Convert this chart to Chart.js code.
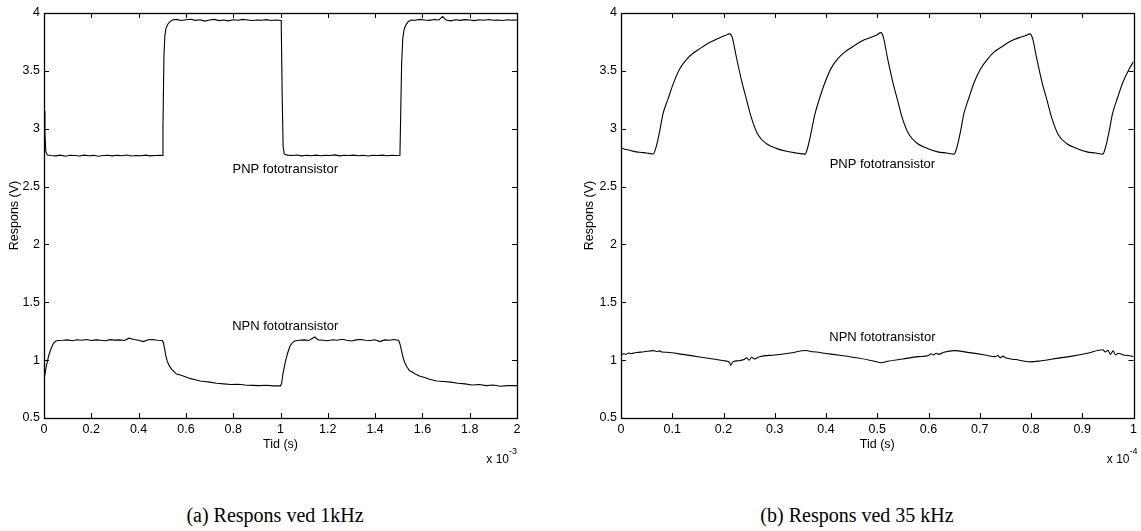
<!DOCTYPE html>
<html>
<head>
<meta charset="utf-8">
<script src="https://cdn.jsdelivr.net/npm/chart.js@4.4.0/dist/chart.umd.min.js"></script>
<style>
  html, body { margin:0; padding:0; background:#fff; }
  body { width:1141px; height:531px; position:relative; overflow:hidden; }
  #ca { position:absolute; left:0; top:0; }
  #cb { position:absolute; left:570px; top:0; }
  .cap { position:absolute; top:504px; font-family:"Liberation Serif","Times New Roman",serif; font-size:20px; line-height:22px; color:#000; transform:translateX(-50%); white-space:nowrap; }
</style>
</head>
<body>
<canvas id="ca" width="570" height="470"></canvas>
<canvas id="cb" width="571" height="470"></canvas>
<div class="cap" style="left:275px">(a) Respons ved 1kHz</div>
<div class="cap" style="left:857px">(b) Respons ved 35 kHz</div>
<script>
// ---------- DATA ----------
// Panel (a): time in units of 1e-3 s
const pnpA_t = [0,0.004,0.008,0.014,0.03,0.05,0.07,0.09,0.11,0.13,0.15,0.17,0.19,0.21,0.23,0.25,0.27,0.29,0.31,0.33,0.35,0.37,0.39,0.41,0.43,0.45,0.47,0.49,0.499,
  0.503,0.507,0.511,0.516,0.524,0.533,0.543,0.56,0.58,0.6,0.62,0.64,0.66,0.68,0.7,0.72,0.74,0.76,0.78,0.8,0.82,0.84,0.86,0.88,0.9,0.92,0.94,0.96,0.98,1.003,
  1.007,1.011,1.016,1.03,1.05,1.07,1.09,1.11,1.13,1.15,1.17,1.19,1.21,1.23,1.25,1.27,1.29,1.31,1.33,1.35,1.37,1.39,1.41,1.43,1.45,1.47,1.49,1.505,
  1.508,1.512,1.517,1.523,1.531,1.54,1.552,1.57,1.59,1.61,1.63,1.65,1.67,1.685,1.7,1.72,1.74,1.76,1.78,1.8,1.82,1.84,1.86,1.88,1.9,1.92,1.94,1.96,1.98,2.0];
const pnpA_v = [3.15,2.95,2.8,2.772,2.768,2.765,2.772,2.762,2.77,2.768,2.764,2.772,2.766,2.77,2.762,2.768,2.771,2.765,2.77,2.766,2.773,2.764,2.769,2.767,2.772,2.765,2.768,2.77,2.768,
  3.0,3.62,3.8,3.87,3.905,3.925,3.94,3.945,3.935,3.942,3.946,3.936,3.942,3.93,3.94,3.945,3.934,3.94,3.932,3.942,3.938,3.945,3.94,3.935,3.94,3.937,3.943,3.935,3.94,3.935,
  3.3,2.85,2.78,2.772,2.768,2.773,2.765,2.77,2.767,2.772,2.766,2.77,2.768,2.774,2.765,2.77,2.768,2.772,2.766,2.77,2.764,2.771,2.768,2.772,2.767,2.77,2.768,2.77,
  3.1,3.55,3.78,3.86,3.9,3.925,3.94,3.938,3.945,3.94,3.936,3.944,3.94,3.97,3.94,3.932,3.942,3.936,3.943,3.94,3.934,3.942,3.938,3.944,3.937,3.94,3.935,3.942,3.938,3.94];

const npnA_t = [0,0.01,0.02,0.03,0.04,0.05,0.06,0.08,0.1,0.12,0.14,0.16,0.18,0.2,0.22,0.24,0.26,0.28,0.3,0.32,0.34,0.36,0.38,0.4,0.42,0.44,0.46,0.48,0.5,
  0.505,0.51,0.515,0.52,0.525,0.53,0.54,0.55,0.56,0.58,0.6,0.62,0.64,0.66,0.68,0.7,0.73,0.76,0.79,0.82,0.85,0.88,0.91,0.94,0.97,1.0,
  1.005,1.01,1.02,1.03,1.04,1.05,1.06,1.08,1.1,1.12,1.145,1.16,1.18,1.2,1.22,1.24,1.26,1.28,1.3,1.32,1.34,1.36,1.38,1.4,1.42,1.44,1.46,1.48,1.5,
  1.505,1.51,1.515,1.52,1.525,1.535,1.545,1.555,1.57,1.59,1.61,1.63,1.66,1.69,1.72,1.75,1.78,1.81,1.84,1.87,1.9,1.93,1.96,2.0];
const npnA_v = [0.83,0.95,1.04,1.1,1.145,1.165,1.17,1.172,1.175,1.168,1.176,1.172,1.178,1.17,1.175,1.172,1.168,1.177,1.173,1.175,1.17,1.19,1.178,1.172,1.16,1.176,1.178,1.172,1.17,
  1.15,1.1,1.04,1.0,0.97,0.95,0.92,0.9,0.88,0.87,0.855,0.84,0.83,0.82,0.815,0.81,0.8,0.795,0.79,0.792,0.785,0.782,0.78,0.783,0.778,0.778,
  0.8,0.88,0.98,1.06,1.12,1.15,1.165,1.172,1.175,1.17,1.2,1.175,1.172,1.168,1.176,1.172,1.18,1.172,1.165,1.175,1.178,1.172,1.17,1.176,1.16,1.175,1.172,1.178,1.17,
  1.14,1.1,1.05,1.01,0.98,0.94,0.91,0.9,0.88,0.86,0.85,0.835,0.82,0.815,0.81,0.8,0.795,0.785,0.79,0.78,0.785,0.775,0.78,0.78];

// Panel (b): time in units of 1e-4 s
const pnpB_t = [0,0.01,0.02,0.03,0.04,0.05,0.063,0.069,0.076,0.082,0.092,0.102,0.115,0.128,0.14,0.153,0.167,0.18,0.192,0.203,0.212,
  0.217,0.225,0.235,0.245,0.254,0.267,0.284,0.303,0.323,0.342,0.359,
  0.365,0.372,0.378,0.388,0.398,0.411,0.424,0.436,0.449,0.463,0.476,0.488,0.499,0.507,
  0.512,0.52,0.53,0.54,0.549,0.562,0.579,0.598,0.618,0.635,0.65,
  0.656,0.663,0.669,0.679,0.689,0.702,0.715,0.727,0.74,0.754,0.767,0.779,0.79,0.798,
  0.803,0.811,0.821,0.831,0.84,0.853,0.87,0.889,0.909,0.926,0.94,
  0.946,0.953,0.959,0.969,0.979,0.992,1.0];
const pnpB_v = [2.835,2.82,2.81,2.8,2.795,2.79,2.782,2.85,2.99,3.13,3.26,3.39,3.52,3.6,3.65,3.69,3.73,3.76,3.785,3.805,3.82,
  3.79,3.62,3.42,3.25,3.1,2.95,2.87,2.83,2.805,2.79,2.78,
  2.85,2.99,3.12,3.27,3.4,3.53,3.61,3.66,3.7,3.74,3.77,3.79,3.81,3.83,
  3.79,3.61,3.41,3.24,3.09,2.95,2.87,2.83,2.8,2.79,2.78,
  2.85,2.99,3.13,3.27,3.4,3.52,3.6,3.66,3.7,3.74,3.77,3.79,3.805,3.82,
  3.78,3.61,3.41,3.25,3.1,2.95,2.87,2.83,2.8,2.79,2.78,
  2.85,2.99,3.13,3.27,3.4,3.52,3.58];

const npnB_t = [0,0.005,0.01,0.015,0.02,0.03,0.045,0.063,0.07,0.075,0.08,0.09,0.12,0.15,0.18,0.2,0.208,0.212,0.214,0.218,0.23,0.24,0.245,0.25,0.255,0.26,0.27,0.3,0.33,0.361,
  0.37,0.38,0.4,0.43,0.46,0.49,0.507,0.52,0.55,0.58,0.6,0.605,0.61,0.615,0.62,0.63,0.65,0.68,0.71,0.73,0.735,0.74,0.745,0.75,0.77,0.799,
  0.82,0.85,0.88,0.91,0.94,0.945,0.95,0.955,0.96,0.965,0.97,0.98,0.99,1.0];
const npnB_v = [1.04,1.055,1.05,1.062,1.058,1.066,1.072,1.082,1.075,1.08,1.07,1.068,1.05,1.03,1.01,0.995,0.99,0.978,0.955,0.985,0.995,1.005,1.02,1.0,1.025,1.01,1.03,1.045,1.062,1.083,
  1.075,1.07,1.058,1.04,1.02,0.995,0.978,0.99,1.01,1.03,1.04,1.055,1.045,1.06,1.05,1.068,1.082,1.065,1.045,1.03,1.04,1.02,1.035,1.02,1.005,0.985,
  0.995,1.015,1.035,1.06,1.09,1.07,1.085,1.05,1.08,1.045,1.06,1.045,1.04,1.03];

const xTicksA = [0,0.2,0.4,0.6,0.8,1,1.2,1.4,1.6,1.8,2];
const xTicksB = [0,0.1,0.2,0.3,0.4,0.5,0.6,0.7,0.8,0.9,1];
const yTicks = [0.5,1,1.5,2,2.5,3,3.5,4];
const labelText = ['PNP fototransistor','NPN fototransistor'];

// ---------- CHART ----------
Chart.defaults.font.family = '"Liberation Sans", Arial, Helvetica, sans-serif';
Chart.defaults.font.size = 12;
Chart.defaults.color = '#000';

function zip(t, v) { return t.map((x, i) => ({x: x, y: v[i]})); }

const boxPlugin = {
  id: 'box',
  afterDraw(chart, args, o) {
    const ctx = chart.ctx, a = chart.chartArea;
    const xs = chart.scales.x, ys = chart.scales.y;
    ctx.save();
    ctx.strokeStyle = '#000';
    ctx.lineWidth = 1;
    ctx.beginPath();
    const tl = 5;
    o.xt.forEach(v => {
      const px = Math.round(xs.getPixelForValue(v)) + 0.5;
      ctx.moveTo(px, a.bottom); ctx.lineTo(px, a.bottom - tl);
      ctx.moveTo(px, a.top); ctx.lineTo(px, a.top + tl);
    });
    o.yt.forEach(v => {
      const py = Math.round(ys.getPixelForValue(v)) + 0.5;
      ctx.moveTo(a.left, py); ctx.lineTo(a.left + tl, py);
      ctx.moveTo(a.right, py); ctx.lineTo(a.right - tl, py);
    });
    ctx.stroke();
    ctx.lineWidth = 1.3;
    ctx.strokeRect(Math.round(a.left) + 0.5, Math.round(a.top) + 0.5, Math.round(a.right - a.left), Math.round(a.bottom - a.top));
    // annotations
    ctx.fillStyle = '#000';
    ctx.font = '13px "Liberation Sans", Arial, sans-serif';
    ctx.textAlign = 'center';
    ctx.textBaseline = 'middle';
    o.labels.forEach(l => {
      ctx.fillText(l.text, xs.getPixelForValue(l.x), ys.getPixelForValue(l.y));
    });
    // exponent
    ctx.textAlign = 'right';
    ctx.textBaseline = 'alphabetic';
    ctx.font = '9px "Liberation Sans", Arial, sans-serif';
    const expW = ctx.measureText(o.exp).width;
    ctx.fillText(o.exp, a.right + o.expShift, 454);
    ctx.font = '12px "Liberation Sans", Arial, sans-serif';
    ctx.fillText('x 10', a.right + o.expShift - expW, 463);
    ctx.restore();
  }
};

function makeChart(id, datasets, xmax, xt, yW, padR, yTitlePad, labels, exp, expShift, smooth) {
  return new Chart(document.getElementById(id), {
    type: 'line',
    data: { datasets: datasets.map(d => ({
      data: d, borderColor: '#000', borderWidth: 1.1, pointRadius: 0, fill: false,
      cubicInterpolationMode: smooth ? 'monotone' : 'default', tension: 0
    })) },
    options: {
      responsive: false,
      animation: false,
      events: [],
      layout: { padding: { top: 13, right: padR, left: 0, bottom: 0 } },
      plugins: { legend: { display: false }, tooltip: { enabled: false },
        box: { xt: xt, yt: yTicks, labels: labels, exp: exp, expShift: expShift } },
      scales: {
        x: {
          type: 'linear', min: 0, max: xmax,
          afterBuildTicks: s => { s.ticks = xt.map(v => ({value: v})); },
          afterFit: s => { s.height = 52; },
          grid: { display: false, drawTicks: false },
          border: { display: false },
          ticks: { padding: 4, maxRotation: 0, autoSkip: false, font: { size: 12.5 }, color: '#000',
            callback: v => String(v) },
          title: { display: true, text: 'Tid (s)', font: { size: 12.5 }, color: '#000', padding: { top: 0, bottom: 18 } }
        },
        y: {
          type: 'linear', min: 0.5, max: 4,
          afterBuildTicks: s => { s.ticks = yTicks.map(v => ({value: v})); },
          afterFit: s => { s.width = yW; },
          grid: { display: false, drawTicks: false },
          border: { display: false },
          ticks: { padding: 4, autoSkip: false, font: { size: 12.5 }, color: '#000',
            callback: v => String(v) },
          title: { display: true, text: 'Respons (V)', font: { size: 12.5 }, color: '#000', padding: { top: yTitlePad, bottom: 0 } }
        }
      }
    },
    plugins: [boxPlugin]
  });
}

makeChart('ca', [zip(pnpA_t, pnpA_v), zip(npnA_t, npnA_v)], 2, xTicksA, 44, 53, 7,
  [{text: labelText[0], x: 1.02, y: 2.65}, {text: labelText[1], x: 1.02, y: 1.295}], '-3', 0, false);
makeChart('cb', [zip(pnpB_t, pnpB_v), zip(npnB_t, npnB_v)], 1, xTicksB, 51, 5, 12,
  [{text: labelText[0], x: 0.51, y: 2.69}, {text: labelText[1], x: 0.51, y: 1.2}], '-4', 4, true);
</script>
</body>
</html>
